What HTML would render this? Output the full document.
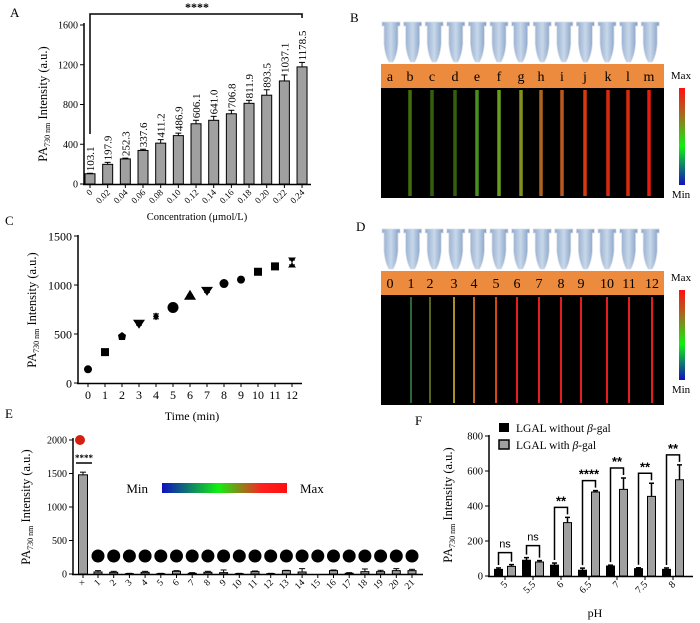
<!DOCTYPE html>
<html><head><meta charset="utf-8">
<style>
body{margin:0;background:#fff;}
svg{display:block;font-family:"Liberation Serif",serif;}
</style></head>
<body>
<svg id="fig" width="700" height="623" viewBox="0 0 700 623" xmlns="http://www.w3.org/2000/svg">
<defs>
<linearGradient id="cbh" x1="0" x2="1" y1="0" y2="0">
<stop offset="0" stop-color="#1010c0"/><stop offset="0.45" stop-color="#10f010"/><stop offset="0.8" stop-color="#ff2020"/><stop offset="1" stop-color="#ff1010"/></linearGradient>
<linearGradient id="cbv" x1="0" x2="0" y1="1" y2="0">
<stop offset="0" stop-color="#1010c0"/><stop offset="0.4" stop-color="#10f010"/><stop offset="0.75" stop-color="#b06020"/><stop offset="1" stop-color="#ff1010"/></linearGradient>
<linearGradient id="tube" x1="0" x2="1"><stop offset="0" stop-color="#8fa8cc"/><stop offset="0.5" stop-color="#c8d8ea"/><stop offset="1" stop-color="#7f9cc4"/></linearGradient>
</defs>
<g id="panelA"></g>
<g id="panelB"></g>
<g id="panelC"></g>
<g id="panelD"></g>
<g id="panelE"></g>
<g id="panelF"></g>
</svg>
<script>
// Panel A data
const aCats = ["0","0.02","0.04","0.06","0.08","0.10","0.12","0.14","0.16","0.18","0.20","0.22","0.24"];
const aVals = [103.1,197.9,252.3,337.6,411.2,486.9,606.1,641.0,706.8,811.9,893.5,1037.1,1178.5];
const aErr = [5,20,8,12,35,25,35,40,35,30,55,60,45];
const aTicks = [0,400,800,1200,1600];
// Panel C data
const cCats = [0,1,2,3,4,5,6,7,8,9,10,11,12];
const cVals = [140,315,480,605,680,770,890,940,1015,1055,1135,1190,1230];
const cErr = [8,10,12,15,25,10,10,15,25,10,15,15,25];
const cTicks = [0,500,1000,1500];
// Panel E data
const eCats = ["×","1","2","3","4","5","6","7","8","9","10","11","12","13","14","15","16","17","18","19","20","21"];
const eVals = [1480,30,25,5,25,5,40,10,25,20,5,35,5,50,30,0,50,10,35,35,50,50];
const eErr = [40,20,15,5,15,5,10,10,15,40,5,10,5,5,50,0,10,10,40,20,30,20];
const eTicks = [0,500,1000,1500,2000];
// Panel F data
const fCats = ["5","5.5","6","6.5","7","7.5","8"];
const fWithout = [38,90,62,33,57,42,38];
const fWithoutErr = [8,15,12,12,5,5,8];
const fWith = [55,80,305,480,495,455,550];
const fWithErr = [10,8,30,8,65,75,85];
const fSig = ["ns","ns","**","****","**","**","**"];
const fTicks = [0,200,400,600,800];
// Images B/D
const bLabels = ["a","b","c","d","e","f","g","h","i","j","k","l","m"];
const bColors = ["#000","#4a7a10","#3a6a10","#3a6a10","#50a020","#70b020","#90a020","#c07020","#d06020","#f04010","#f03010","#f03010","#ff2010"];
const dLabels = ["0","1","2","3","4","5","6","7","8","9","10","11","12"];
const dColors = ["#000","#307040","#607020","#c0a020","#d07020","#f05010","#ff2020","#ff2020","#ff2020","#ff2020","#ff2020","#ff2020","#ff2020"];

const NS="http://www.w3.org/2000/svg";
function mk(parent,tag,attrs,text){const e=document.createElementNS(NS,tag);for(const k in attrs)e.setAttribute(k,attrs[k]);if(text!==undefined)e.textContent=text;parent.appendChild(e);return e;}

function yLabel(g,x,y){
  const t=mk(g,"text",{x:x,y:y,"font-size":"12.5","text-anchor":"middle",transform:`rotate(-90 ${x} ${y})`});
  
  
  const s1=document.createElementNS(NS,"tspan");s1.textContent="PA";t.appendChild(s1);
  const s2=document.createElementNS(NS,"tspan");s2.setAttribute("font-size","8");s2.setAttribute("dy","3");s2.textContent="730 nm";t.appendChild(s2);
  const s3=document.createElementNS(NS,"tspan");s3.setAttribute("dy","-3");s3.textContent=" Intensity (a.u.)";t.appendChild(s3);
}
function letter(g,x,y,s){const t=mk(g,"text",{x:x,y:y,"font-size":"13"},s);
  
  }

// ---------- Panel A ----------
(function(){
const g=document.getElementById("panelA");
const yA=v=>184-v*(159/1600);
const xA=i=>90+i*17.67;
letter(g,10,17,"A");
mk(g,"line",{x1:84,y1:23,x2:84,y2:185,stroke:"#000","stroke-width":1.5});
mk(g,"line",{x1:83,y1:184.5,x2:311,y2:184.5,stroke:"#000","stroke-width":1.5});
aTicks.forEach(v=>{mk(g,"line",{x1:80,x2:84,y1:yA(v),y2:yA(v),stroke:"#000"});
  const t=mk(g,"text",{x:78,y:yA(v)+3.5,"font-size":"10","text-anchor":"end"},v);
  
  });
aVals.forEach((v,i)=>{
  const x=xA(i);
  const r=mk(g,"rect",{x:x-5,y:yA(v),width:10,height:184-yA(v),fill:"#a0a0a0",stroke:"#000","stroke-width":1});
  
  
  mk(g,"line",{x1:x,x2:x,y1:yA(v),y2:yA(v+aErr[i]),stroke:"#000"});
  mk(g,"line",{x1:x-3,x2:x+3,y1:yA(v+aErr[i]),y2:yA(v+aErr[i]),stroke:"#000"});
  const lx=x+4,ly=yA(v+aErr[i])-2;
  const t=mk(g,"text",{x:lx,y:ly,"font-size":"11",transform:`rotate(-90 ${lx} ${ly})`},v.toFixed(1));
  
  
  mk(g,"line",{x1:x,x2:x,y1:185,y2:188,stroke:"#000"});
  const tx=x+3,ty=193;
  const tl=mk(g,"text",{x:tx,y:ty,"font-size":"9","text-anchor":"end",transform:`rotate(-45 ${tx} ${ty})`},aCats[i]);
  
  
});
mk(g,"path",{d:`M${xA(0)} ${yA(103.1+400)} V14 H${xA(12)} V18`,fill:"none",stroke:"#000","stroke-width":1.5});
const st=mk(g,"text",{x:197,y:11,"font-size":"12","font-weight":"bold","text-anchor":"middle"},"****");


yLabel(g,47,104);
const xt=mk(g,"text",{x:197,y:220,"font-size":"10.5","text-anchor":"middle"},"Concentration (μmol/L)");


})();

// ---------- Panel B / D images ----------
function imgPanel(gid,L,top,labels,colors,lw,imgH,cbTop,cbBot){
const g=document.getElementById(gid);
letter(g,L.lx,L.ly,L.l);
for(let i=0;i<13;i++){
  const cx=391+i*21.6;
  const tb=mk(g,"path",{d:`M${cx-9} ${top} h18 v4 h-2 v18 q-1 12 -5 18 h-4 q-4 -6 -5 -18 v-18 h-2 z`,fill:"url(#tube)",stroke:"#d8dde6","stroke-width":0.8});
  
  
}
const ob=mk(g,"rect",{x:381,y:top+42,width:283,height:24,fill:"#ec8a3e"});


const bk=mk(g,"rect",{x:381,y:top+66,width:283,height:imgH,fill:"#000"});


labels.forEach((s,i)=>{
  const x=labels===bLabels?[390,410,432,455,477,499,521,541,562,585,608,628,649][i]:[390,411,430,454,474,496,517,539,561,581,607,629,652][i];
  const t=mk(g,"text",{x:x,y:top+59,"font-size":"14","text-anchor":"middle"},s);
  
  
  if(i>0){const ln=mk(g,"rect",{x:x-lw/2,y:top+68,width:lw,height:imgH-4,fill:colors[i],opacity:0.9});
    
    }
});
const cb=mk(g,"rect",{x:679,y:cbTop,width:6,height:cbBot-cbTop,fill:"url(#cbv)"});


mk(g,"text",{x:681,y:cbTop-9,"font-size":"11","text-anchor":"middle"},"Max");
mk(g,"text",{x:681,y:cbBot+13,"font-size":"11","text-anchor":"middle"},"Min");
}
imgPanel("panelB",{l:"B",lx:350,ly:22},22,bLabels,bColors,3.5,110,88,185);
imgPanel("panelD",{l:"D",lx:356,ly:231},229,dLabels,dColors,2,110,290,380);

// ---------- Panel C ----------
(function(){
const g=document.getElementById("panelC");
const xC=t=>88+t*17;
const yC=v=>383-v*(147/1500);
letter(g,5,225,"C");
mk(g,"line",{x1:78,y1:235,x2:78,y2:384,stroke:"#000","stroke-width":1.5});
mk(g,"line",{x1:77,y1:383.5,x2:302,y2:383.5,stroke:"#000","stroke-width":1.5});
cTicks.forEach(v=>{mk(g,"line",{x1:74,x2:78,y1:yC(v),y2:yC(v),stroke:"#000"});
  const t=mk(g,"text",{x:72,y:yC(v)+4.5,"font-size":"12","text-anchor":"end"},v);
  
  });
const shapes=["c","s","p","v","d","C","t","v","h","c","s","s","x"];
cCats.forEach((t,i)=>{
  const x=xC(t),y=yC(cVals[i]);
  mk(g,"line",{x1:x,x2:x,y1:yC(cVals[i]-cErr[i]),y2:yC(cVals[i]+cErr[i]),stroke:"#000"});
  [cVals[i]-cErr[i],cVals[i]+cErr[i]].forEach(v=>mk(g,"line",{x1:x-3,x2:x+3,y1:yC(v),y2:yC(v),stroke:"#000"}));
  let m;const sh=shapes[i];
  if(sh==="c")m=mk(g,"circle",{cx:x,cy:y,r:4});
  else if(sh==="C")m=mk(g,"circle",{cx:x,cy:y,r:5.5});
  else if(sh==="s")m=mk(g,"rect",{x:x-4,y:y-4,width:8,height:8});
  else if(sh==="p")m=mk(g,"path",{d:`M${x} ${y-4} L${x+4} ${y-1} L${x+3} ${y+4} L${x-3} ${y+4} L${x-4} ${y-1}Z`});
  else if(sh==="t")m=mk(g,"path",{d:`M${x} ${y-6} L${x+6} ${y+4} L${x-6} ${y+4}Z`});
  else if(sh==="v")m=mk(g,"path",{d:`M${x-6} ${y-4} L${x+6} ${y-4} L${x} ${y+5}Z`});
  else if(sh==="d")m=mk(g,"path",{d:`M${x} ${y-4} L${x+3} ${y} L${x} ${y+4} L${x-3} ${y}Z`});
  else if(sh==="h")m=mk(g,"circle",{cx:x,cy:y,r:4.5});
  else m=mk(g,"path",{d:`M${x-4} ${y-5} L${x+4} ${y-5} L${x} ${y} L${x+4} ${y+5} L${x-4} ${y+5} L${x} ${y}Z`});
  m.setAttribute("fill","#000");
  
  
  mk(g,"line",{x1:x,x2:x,y1:384,y2:387,stroke:"#000"});
  const tl=mk(g,"text",{x:x,y:399,"font-size":"12","text-anchor":"middle"},t);
  
  
});
yLabel(g,36,310);
const xt=mk(g,"text",{x:192,y:420,"font-size":"12","text-anchor":"middle"},"Time (min)");


})();

// ---------- Panel E ----------
(function(){
const g=document.getElementById("panelE");
const yE=v=>574-v*(134/2000);
const xE=i=>i===0?83:98+(i-1)*15.7;
letter(g,5,418,"E");
mk(g,"line",{x1:73,y1:438,x2:73,y2:575,stroke:"#000","stroke-width":1.5});
mk(g,"line",{x1:72,y1:574.5,x2:423,y2:574.5,stroke:"#000","stroke-width":1.5});
eTicks.forEach(v=>{mk(g,"line",{x1:69,x2:73,y1:yE(v),y2:yE(v),stroke:"#000"});
  const t=mk(g,"text",{x:67,y:yE(v)+3.5,"font-size":"10","text-anchor":"end"},v);
  
  });
eVals.forEach((v,i)=>{
  const x=xE(i),w=i===0?9:8;
  const r=mk(g,"rect",{x:x-w/2,y:yE(v),width:w,height:574-yE(v),fill:"#a0a0a0",stroke:"#000","stroke-width":1});
  
  
  if(eErr[i]>0){mk(g,"line",{x1:x,x2:x,y1:yE(v),y2:yE(v+eErr[i]),stroke:"#000"});
  mk(g,"line",{x1:x-3,x2:x+3,y1:yE(v+eErr[i]),y2:yE(v+eErr[i]),stroke:"#000"});}
  if(i>0){const c=mk(g,"circle",{cx:x,cy:556,r:6.5,fill:"#000"});
    
    }
  mk(g,"line",{x1:x,x2:x,y1:575,y2:578,stroke:"#000"});
  const tx=x+3,ty=583;
  const tl=mk(g,"text",{x:tx,y:ty,"font-size":"9.5","text-anchor":"end",transform:`rotate(-45 ${tx} ${ty})`},eCats[i]);
  
  
});
const rc=mk(g,"circle",{cx:80,cy:440,r:5,fill:"#d42010"});


mk(g,"line",{x1:76,x2:92,y1:463,y2:463,stroke:"#000","stroke-width":1.5});
mk(g,"text",{x:84,y:461,"font-size":"9","font-weight":"bold","text-anchor":"middle"},"****");
const cb=mk(g,"rect",{x:162,y:483,width:125,height:10,fill:"url(#cbh)"});


mk(g,"text",{x:148,y:493,"font-size":"13","text-anchor":"end"},"Min");
mk(g,"text",{x:300,y:493,"font-size":"13"},"Max");
yLabel(g,30,507);
})();

// ---------- Panel F ----------
(function(){
const g=document.getElementById("panelF");
const yF=v=>576-v*(140/800);
const xF=i=>505+i*28;
letter(g,415,425,"F");
mk(g,"line",{x1:489,y1:435,x2:489,y2:577,stroke:"#000","stroke-width":1.5});
mk(g,"line",{x1:488,y1:576.5,x2:693,y2:576.5,stroke:"#000","stroke-width":1.5});
fTicks.forEach(v=>{mk(g,"line",{x1:485,x2:489,y1:yF(v),y2:yF(v),stroke:"#000"});
  const t=mk(g,"text",{x:483,y:yF(v)+3.5,"font-size":"10.5","text-anchor":"end"},v);
  
  });
fCats.forEach((c,i)=>{
  const xc=xF(i);
  [[fWithout,fWithoutErr,"#000",-6.5],[fWith,fWithErr,"#a0a0a0",6.5]].forEach(([vals,errs,col,off])=>{
    const v=vals[i],x=xc+off;
    const r=mk(g,"rect",{x:x-4,y:yF(v),width:8,height:576-yF(v),fill:col,stroke:"#000","stroke-width":1});
    
    
    mk(g,"line",{x1:x,x2:x,y1:yF(v),y2:yF(v+errs[i]),stroke:"#000","stroke-width":1.5});
    mk(g,"line",{x1:x-2.5,x2:x+2.5,y1:yF(v+errs[i]),y2:yF(v+errs[i]),stroke:"#000","stroke-width":1.5});
  });
  const top=Math.max(fWithout[i]+fWithoutErr[i],fWith[i]+fWithErr[i]);
  const by=yF(top)-(fSig[i]==="ns"?12:10);
  const b=mk(g,"path",{d:`M${xc-6.5} ${yF(fWithout[i]+fWithoutErr[i])-3} V${by} H${xc+6.5} V${yF(fWith[i]+fWithErr[i])-3}`,fill:"none",stroke:"#000","stroke-width":1.5});
  
  
  const st=mk(g,"text",{x:xc,y:by-(fSig[i]==="ns"?5:2),"font-size":fSig[i]==="ns"?"11":"13","font-family":"Liberation Sans, sans-serif","font-weight":fSig[i]==="ns"?"normal":"bold","text-anchor":"middle"},fSig[i]);
  
  
  mk(g,"line",{x1:xc,x2:xc,y1:577,y2:580,stroke:"#000"});
  const tx=xc+3,ty=585;
  const tl=mk(g,"text",{x:tx,y:ty,"font-size":"10","text-anchor":"end",transform:`rotate(-45 ${tx} ${ty})`},c);
  
  
});
const l1=mk(g,"rect",{x:499,y:423,width:10,height:9,fill:"#000"});


const l2=mk(g,"rect",{x:499,y:440,width:10,height:9,fill:"#a0a0a0",stroke:"#000","stroke-width":1.5});


const t1=mk(g,"text",{x:516,y:432,"font-size":"11.5"});


t1.innerHTML='LGAL without <tspan font-style="italic">β</tspan>-gal';
const t2=mk(g,"text",{x:516,y:449,"font-size":"11.5"});


t2.innerHTML='LGAL with <tspan font-style="italic">β</tspan>-gal';
yLabel(g,452,505);
const xt=mk(g,"text",{x:595,y:617,"font-size":"12","text-anchor":"middle"},"pH");


})();
</script>
</body></html>
